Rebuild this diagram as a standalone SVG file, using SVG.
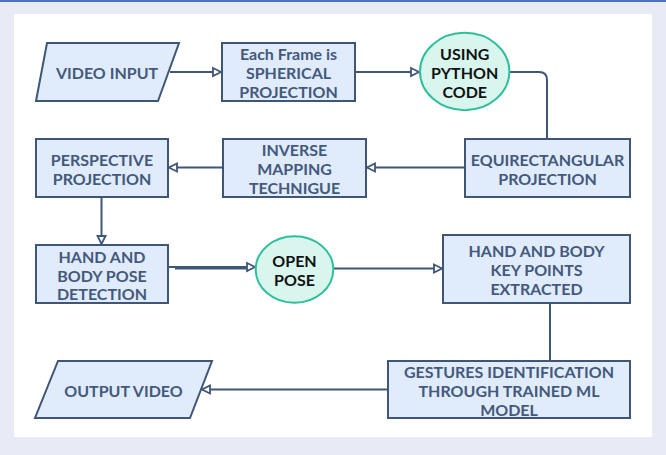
<svg xmlns="http://www.w3.org/2000/svg" width="666" height="455" viewBox="0 0 666 455">
<defs>
<style>
.box{fill:#e0ecfc;stroke:#3f5677;stroke-width:2}
.ell{fill:#d8f6ee;stroke:#2fbf9c;stroke-width:2}
.t{font-family:Lato,"Open Sans","Liberation Sans",sans-serif;font-size:16px;font-weight:bold;fill:#44597b;text-anchor:middle;dominant-baseline:central}
.te{font-family:Lato,"Open Sans","Liberation Sans",sans-serif;font-size:16px;font-weight:bold;fill:#111111;text-anchor:middle;dominant-baseline:central}
.c{fill:none;stroke:#3f5677;stroke-width:2}
</style>
<marker id="arr" markerWidth="12" markerHeight="12" refX="9" refY="5" orient="auto" markerUnits="userSpaceOnUse" viewBox="0 0 12 10">
<path d="M1,1 L9,5 L1,9 Z" fill="#ffffff" stroke="#3f5677" stroke-width="1.8"/>
</marker>
</defs>
<rect x="0" y="0" width="666" height="455" fill="#e8eaf5"/>
<rect x="0" y="0" width="666" height="2" fill="#4a74c2"/>
<rect x="14" y="14" width="638" height="423" fill="#ffffff"/>
<g id="connectors">
<path class="c" d="M170,72 L221,72" marker-end="url(#arr)"/>
<path class="c" d="M355,72 L419,72" marker-end="url(#arr)"/>
<path class="c" d="M509,72 L539,72 Q547,72 547,80 L547,139"/>
<path class="c" d="M465,167.5 L367,167.5" marker-end="url(#arr)"/>
<path class="c" d="M222,167.5 L169,167.5" marker-end="url(#arr)"/>
<path class="c" d="M101.5,197 L101.5,244" marker-end="url(#arr)"/>
<path class="c" d="M168,267 L255,267" marker-end="url(#arr)"/>
<path class="c" d="M175,268.5 L246,268.5"/>
<path class="c" d="M333,268.5 L442,268.5" marker-end="url(#arr)"/>
<path class="c" d="M550,303 L550,361"/>
<path class="c" d="M388,389.5 L202,389.5" marker-end="url(#arr)"/>
</g>
<g id="video-input">
<polygon class="box" points="47,43 179,43 158,101 36,101"/>
<text class="t" x="107" y="72">VIDEO INPUT</text>
</g>
<g id="spherical">
<rect class="box" x="222" y="43" width="133" height="58"/>
<text class="t" x="288.5" y="53">Each Frame is</text>
<text class="t" x="288.5" y="72">SPHERICAL</text>
<text class="t" x="288.5" y="91.5">PROJECTION</text>
</g>
<g id="python">
<ellipse class="ell" cx="464.7" cy="71.5" rx="44.7" ry="38.7"/>
<text class="te" x="464.7" y="53">USING</text>
<text class="te" x="464.7" y="72">PYTHON</text>
<text class="te" x="464.7" y="91.5">CODE</text>
</g>
<g id="equirect">
<rect class="box" x="465" y="139" width="165" height="58"/>
<text class="t" x="547.5" y="159">EQUIRECTANGULAR</text>
<text class="t" x="547.5" y="178">PROJECTION</text>
</g>
<g id="inverse">
<rect class="box" x="223" y="139" width="143" height="58"/>
<text class="t" x="294.5" y="149">INVERSE</text>
<text class="t" x="294.5" y="168">MAPPING</text>
<text class="t" x="294.5" y="187.5">TECHNIGUE</text>
</g>
<g id="perspective">
<rect class="box" x="36" y="139" width="132" height="58"/>
<text class="t" x="102" y="159">PERSPECTIVE</text>
<text class="t" x="102" y="178">PROJECTION</text>
</g>
<g id="pose-detection">
<rect class="box" x="36" y="245" width="132" height="58"/>
<text class="t" x="102" y="256">HAND AND</text>
<text class="t" x="102" y="275">BODY POSE</text>
<text class="t" x="102" y="293.5">DETECTION</text>
</g>
<g id="openpose">
<ellipse class="ell" cx="294.5" cy="269.5" rx="38.8" ry="33.3"/>
<text class="te" x="294.5" y="260">OPEN</text>
<text class="te" x="294.5" y="279">POSE</text>
</g>
<g id="keypoints">
<rect class="box" x="443" y="235" width="187" height="68"/>
<text class="t" x="536.5" y="250">HAND AND BODY</text>
<text class="t" x="536.5" y="269">KEY POINTS</text>
<text class="t" x="536.5" y="288.5">EXTRACTED</text>
</g>
<g id="gestures">
<rect class="box" x="388" y="361" width="242" height="57"/>
<text class="t" x="509" y="371.5">GESTURES IDENTIFICATION</text>
<text class="t" x="509" y="390.5">THROUGH TRAINED ML</text>
<text class="t" x="509" y="409.5">MODEL</text>
</g>
<g id="output-video">
<polygon class="box" points="58,361 212,361 190,418 35,418"/>
<text class="t" x="123.5" y="390">OUTPUT VIDEO</text>
</g>
</svg>
